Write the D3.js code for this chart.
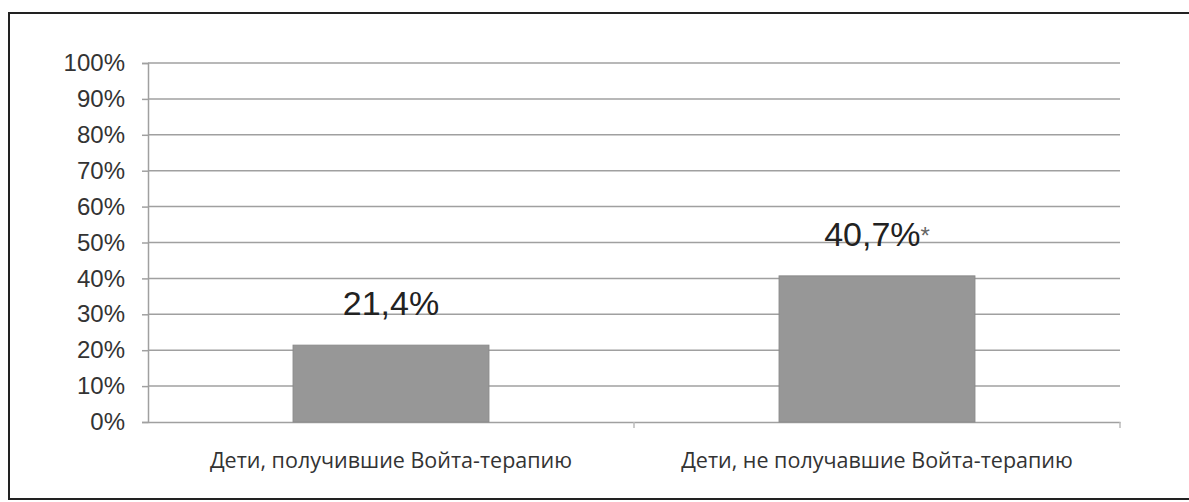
<!DOCTYPE html>
<html>
<head>
<meta charset="utf-8">
<script src="https://cdn.jsdelivr.net/npm/d3@7"></script>
<style>
  body { margin: 0; background: #fff; }
  svg { display: block; }
</style>
</head>
<body>
<script>
var categories = ['Дети, получившие Войта-терапию', 'Дети, не получавшие Войта-терапию'];
var values = [21.4, 40.7];
var valueLabels = ['21,4%', '40,7%'];
var valueMarks = ['', '*'];
var yTicks = [0, 10, 20, 30, 40, 50, 60, 70, 80, 90, 100];

var W = 1189, H = 502;
var plotL = 148, plotR = 1120, plotT = 63, plotB = 422;

var svg = d3.select("body").append("svg").attr("width", W).attr("height", H);

// frame
svg.append("rect")
    .attr("x", 9).attr("y", 13)
    .attr("width", 1200).attr("height", 486)
    .attr("fill", "none").attr("stroke", "#222").attr("stroke-width", 2);

var x = d3.scaleBand().domain(categories).range([plotL, plotR]);
var y = d3.scaleLinear().domain([0, 100]).range([plotB, plotT]);

// gridlines + y axis
var yAxis = d3.axisLeft(y)
    .tickValues(yTicks)
    .tickSize(6)
    .tickFormat(function(d){ return d + "%"; });

var gy = svg.append("g").attr("transform", "translate(" + plotL + ",0)").call(yAxis);
gy.select(".domain").attr("stroke", "#a0a0a0").attr("stroke-width", 1.5);
gy.selectAll(".tick line").attr("stroke", "#a0a0a0").attr("stroke-width", 1.5);
gy.selectAll(".tick text")
    .attr("x", -23)
    .attr("fill", "#333")
    .attr("font-family", "Liberation Sans, Arial, sans-serif")
    .attr("font-size", 24);

svg.append("g").selectAll("line.grid")
    .data(yTicks.filter(function(d){ return d > 0; }))
    .enter().append("line")
        .attr("class", "grid")
        .attr("x1", plotL).attr("x2", plotR)
        .attr("y1", function(d){ return y(d); })
        .attr("y2", function(d){ return y(d); })
        .attr("stroke", "#a0a0a0")
        .attr("stroke-width", 1.5);

// x axis
var xAxis = d3.axisBottom(x).tickSize(0).tickFormat("");
var gx = svg.append("g").attr("transform", "translate(0," + plotB + ")").call(xAxis);
gx.select(".domain").attr("stroke", "#a0a0a0").attr("stroke-width", 1.5);
gx.selectAll(".tick").remove();

// category dividers
svg.append("g").selectAll("line.div")
    .data(categories.slice(1).concat([null]))
    .enter().append("line")
        .attr("x1", function(d){ return d ? x(d) : plotR; })
        .attr("x2", function(d){ return d ? x(d) : plotR; })
        .attr("y1", plotB).attr("y2", plotB + 6)
        .attr("stroke", "#bbb").attr("stroke-width", 1.5);

svg.append("g").selectAll("text.cat")
    .data(categories)
    .enter().append("text")
        .attr("x", function(d){ return x(d) + x.bandwidth() / 2; })
        .attr("y", 468)
        .attr("text-anchor", "middle")
        .attr("fill", "#333")
        .attr("font-family", "Open Sans, sans-serif")
        .attr("font-size", 21.5)
        .text(function(d){ return d; });

// bars
var barW = x.bandwidth() * 0.403;
svg.selectAll("rect.bar")
    .data(values)
    .enter().append("rect")
        .attr("class", "bar")
        .attr("x", function(d,i){ return x(categories[i]) + (x.bandwidth() - barW) / 2; })
        .attr("y", function(d){ return y(d); })
        .attr("width", barW)
        .attr("height", function(d){ return plotB - y(d); })
        .attr("fill", "#979797")
        .attr("stroke", "#8a8a8a");

// value labels
var lbl = svg.selectAll("text.val")
    .data(values)
    .enter().append("text")
        .attr("class", "val")
        .attr("x", function(d,i){ return x(categories[i]) + x.bandwidth() / 2; })
        .attr("y", function(d){ return y(d) - 30; })
        .attr("text-anchor", "middle")
        .attr("fill", "#222")
        .attr("font-family", "Liberation Sans, Arial, sans-serif")
        .attr("font-size", 34);
lbl.append("tspan").text(function(d,i){ return valueLabels[i]; });
lbl.append("tspan")
    .attr("font-size", 24)
    .attr("fill", "#666")
    .attr("dy", -2)
    .text(function(d,i){ return valueMarks[i]; });
</script>
</body>
</html>
